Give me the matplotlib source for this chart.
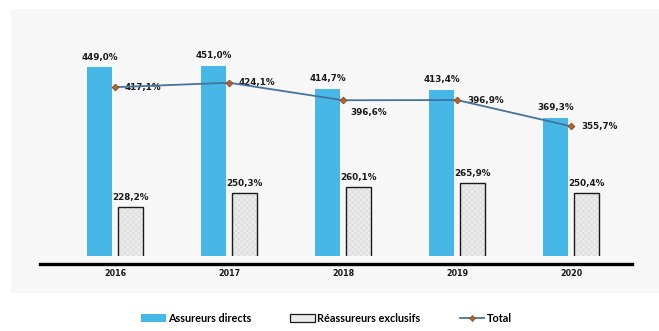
import numpy as np
import matplotlib.pyplot as plt
from matplotlib.patches import Rectangle, Patch
from matplotlib.lines import Line2D

years = ["2016", "2017", "2018", "2019", "2020"]
directs = [449.0, 451.0, 414.7, 413.4, 369.3]
exclusifs = [228.2, 250.3, 260.1, 265.9, 250.4]
total = [417.1, 424.1, 396.6, 396.9, 355.7]

def fmt(v):
    return ("%.1f%%" % v).replace(".", ",")

blue = "#47b7e8"
line_col = "#44739f"
mark_col = "#c0601e"

plt.rcParams["hatch.linewidth"] = 0.5

fig = plt.figure(figsize=(6.59, 3.31), dpi=100)
W, H = 659.0, 331.0

# light grey panel behind the plot
fig.add_artist(Rectangle((11 / W, 1 - 293 / H), 1 - 11 / W, (293 - 9) / H,
                         transform=fig.transFigure, facecolor="#f7f7f7",
                         edgecolor="none", zorder=-5))

ax = fig.add_axes([40 / W, 75 / H, 592 / W, (256 - 34.4) / H])
ax.set_facecolor("none")
x = np.arange(len(years))
bw = 0.218

ax.bar(x - 0.135, directs, bw, color=blue, zorder=2)
ax.bar(x + 0.133, exclusifs, bw, color="#ececec", edgecolor="#dadada",
       hatch="xxxxxx", linewidth=0, zorder=2)
ax.bar(x + 0.133, exclusifs, bw, facecolor="none", edgecolor="#1a1a1a",
       linewidth=1.0, zorder=3)
ax.plot(x, total, color=line_col, lw=1.3, marker="D", markersize=3.5,
        markerfacecolor=mark_col, markeredgecolor="#6a4a3a", markeredgewidth=0.5,
        zorder=4)

ax.set_ylim(152, 500)
ax.set_xlim(-0.658, 4.535)

lab = dict(fontsize=6.3, fontweight="bold", color="#1a1a1a")
for i in range(len(years)):
    ax.annotate(fmt(directs[i]), (x[i] - 0.135, directs[i]), xytext=(0, 7),
                textcoords="offset points", ha="center", va="center", **lab)
    ax.annotate(fmt(exclusifs[i]), (x[i] + 0.133, exclusifs[i]), xytext=(0, 7),
                textcoords="offset points", ha="center", va="center", **lab)

# total labels, 2018 sits under its point
offs = [(7.2, 0), (7.2, 0), (5.5, -9), (7.2, 0), (7.2, -0.5)]
for i in range(len(years)):
    ax.annotate(fmt(total[i]), (x[i], total[i]), xytext=offs[i],
                textcoords="offset points", ha="left", va="center", **lab)

for s in ["top", "left", "right"]:
    ax.spines[s].set_visible(False)
ax.spines["bottom"].set_position(("outward", 6))
ax.spines["bottom"].set_linewidth(2.4)
ax.spines["bottom"].set_color("black")
ax.set_yticks([])
ax.set_xticks(x)
ax.set_xticklabels(years, fontsize=5.8, fontweight="bold", color="#1a1a1a")
ax.tick_params(axis="x", length=0, pad=3.5)

handles = [Patch(facecolor=blue, edgecolor="none"),
           Patch(facecolor="#ebebeb", edgecolor="#1a1a1a", linewidth=0.9),
           Line2D([], [], color=line_col, lw=1.3, marker="D", markersize=3,
                  markerfacecolor=mark_col, markeredgecolor="#6a4a3a",
                  markeredgewidth=0.5)]
fig.legend(handles, ["Assureurs directs", "Réassureurs exclusifs", "Total"],
           loc="center", bbox_to_anchor=(0.495, 1 - 318 / H), ncol=3,
           frameon=False, prop={"family": "Lato", "weight": "bold", "size": 7.8},
           handlelength=2.3, handleheight=0.7, handletextpad=0.2,
           columnspacing=3.6)

fig.savefig("out.png", dpi=100)
